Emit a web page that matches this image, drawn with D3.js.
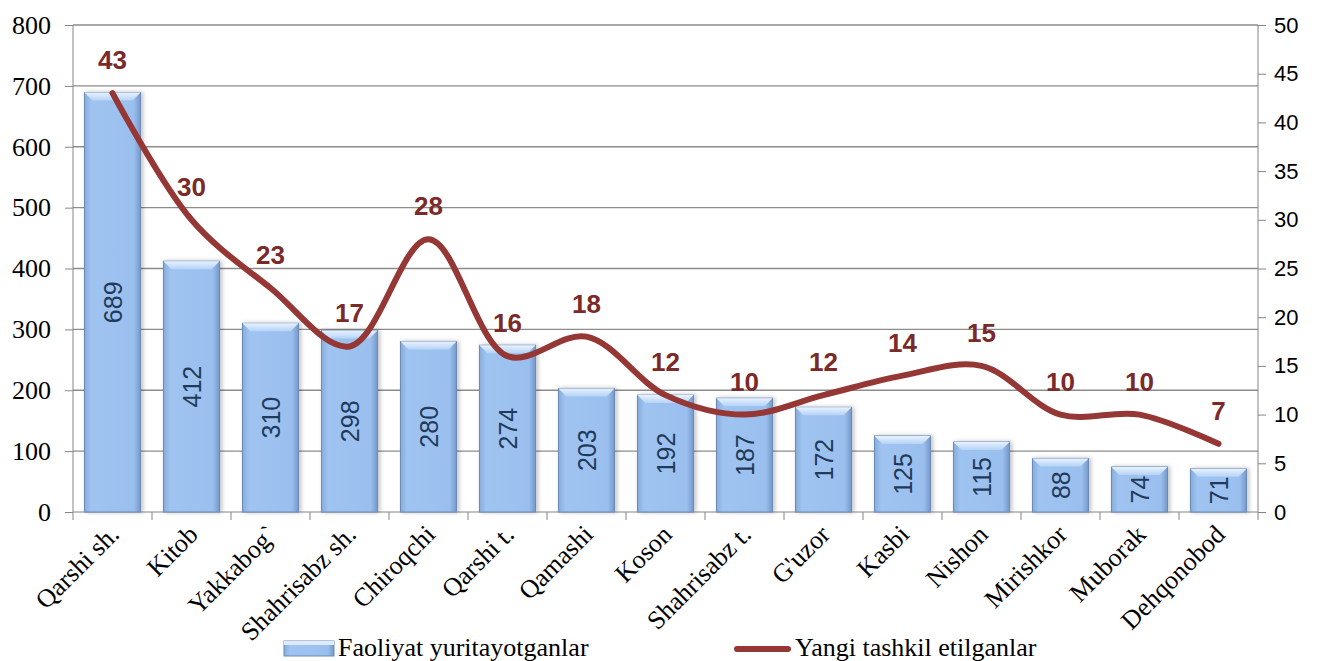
<!DOCTYPE html>
<meta charset="utf-8">
<title>Faoliyat yuritayotganlar</title>
<style>
  body { margin: 0; background: #fff; }
  .axis path, .axis line { stroke: #868686; }
  .grid line { stroke: #8c8c8c; stroke-width: 1.3px; }
</style>
<body>
<svg width="1317" height="661"></svg>
<script src="https://d3js.org/d3.v7.min.js"></script>
<script>
  // districts
  var districts = ["Qarshi sh.", "Kitob", "Yakkabog`", "Shahrisabz sh.", "Chiroqchi", "Qarshi t.",
    "Qamashi", "Koson", "Shahrisabz t.", "G'uzor", "Kasbi", "Nishon", "Mirishkor", "Muborak", "Dehqonobod"];
  // bars - left axis
  var active = [689, 412, 310, 298, 280, 274, 203, 192, 187, 172, 125, 115, 88, 74, 71];
  // line - right axis
  var newlyCreated = [43, 30, 23, 17, 28, 16, 18, 12, 10, 12, 14, 15, 10, 10, 7];
  var leftTicks = [0, 100, 200, 300, 400, 500, 600, 700, 800];
  var rightTicks = [0, 5, 10, 15, 20, 25, 30, 35, 40, 45, 50];
  var seriesNames = ["Faoliyat yuritayotganlar", "Yangi tashkil etilganlar"];

  var SERIF = "'Liberation Serif', 'Times New Roman', serif";
  var SANS = "'Liberation Sans', Arial, sans-serif";

  var svg = d3.select("svg");
  var margin = { left: 73, right: 59, top: 25, bottom: 149 };
  var width = 1317 - margin.left - margin.right,
    height = 661 - margin.top - margin.bottom;

  var defs = svg.append("defs");
  var grad = defs.append("linearGradient").attr("id", "barGrad")
    .attr("x1", "0").attr("x2", "1").attr("y1", "0").attr("y2", "0");
  grad.append("stop").attr("offset", "0%").attr("stop-color", "#86acdc");
  grad.append("stop").attr("offset", "12%").attr("stop-color", "#a0c4f1");
  grad.append("stop").attr("offset", "88%").attr("stop-color", "#9abfee");
  grad.append("stop").attr("offset", "100%").attr("stop-color", "#7499c8");
  var topGrad = defs.append("linearGradient").attr("id", "topGrad")
    .attr("x1", "0").attr("x2", "0").attr("y1", "0").attr("y2", "1");
  topGrad.append("stop").attr("offset", "0%").attr("stop-color", "#e8f2ff");
  topGrad.append("stop").attr("offset", "100%").attr("stop-color", "#b5d3f7");
  var shadow = defs.append("filter").attr("id", "shadow").attr("x", "-20%").attr("width", "140%");
  shadow.append("feDropShadow").attr("dx", 2).attr("dy", 0).attr("stdDeviation", 2)
    .attr("flood-color", "#000").attr("flood-opacity", 0.25);

  var g = svg.append("g").attr("transform", "translate(" + margin.left + "," + margin.top + ")");

  var x = d3.scaleBand().domain(districts).range([0, width]).paddingInner(0.29).paddingOuter(0.145);
  var xt = d3.scaleBand().domain(districts).range([0, width]);
  var y = d3.scaleLinear().domain([0, 800]).range([height, 0]);
  var y2 = d3.scaleLinear().domain([0, 50]).range([height, 0]);

  // gridlines
  g.append("g").attr("class", "grid")
    .selectAll("line").data(leftTicks.slice(1)).enter().append("line")
    .attr("x1", 0).attr("x2", width)
    .attr("y1", d => y(d)).attr("y2", d => y(d));

  // left axis
  var ya = g.append("g").attr("class", "axis")
    .call(d3.axisLeft(y).tickValues(leftTicks).tickSize(8).tickPadding(14));
  ya.select(".domain").attr("d", "M0," + height + "V0");
  ya.selectAll("text").style("font-family", SERIF).style("font-size", "26px").attr("fill", "#000");

  // right axis
  var yb = g.append("g").attr("class", "axis").attr("transform", "translate(" + width + ",0)")
    .call(d3.axisRight(y2).tickValues(rightTicks).tickSize(8).tickPadding(8));
  yb.select(".domain").attr("d", "M0," + height + "V0");
  yb.selectAll("text").style("font-family", SANS).style("font-size", "22px").attr("fill", "#000");

  // x axis with ticks at band boundaries
  var xa = g.append("g").attr("class", "axis").attr("transform", "translate(0," + height + ")");
  xa.append("line").attr("x1", 0).attr("x2", width).attr("y1", 0).attr("y2", 0).attr("stroke", "#868686");
  xa.selectAll(".tk").data(districts.concat([null])).enter().append("line")
    .attr("x1", (d, i) => i * xt.step()).attr("x2", (d, i) => i * xt.step())
    .attr("y1", 0).attr("y2", 8).attr("stroke", "#868686");
  xa.selectAll(".lbl").data(districts).enter().append("text")
    .attr("text-anchor", "end")
    .style("font-family", SERIF).style("font-size", "26px").attr("fill", "#000")
    .attr("transform", d => "translate(" + (xt(d) + xt.bandwidth() / 2 + 8) + ",24) rotate(-45)")
    .text(d => d);

  // bars
  var bars = g.selectAll(".bar").data(active).enter().append("g").attr("class", "bar");
  bars.append("rect")
    .attr("x", (d, i) => x(districts[i]))
    .attr("y", d => y(d))
    .attr("width", x.bandwidth())
    .attr("height", d => height - y(d))
    .attr("fill", "url(#barGrad)")
    .attr("filter", "url(#shadow)")
    .attr("stroke", "#6a89b3").attr("stroke-width", 1);
  // bevel on the top
  bars.append("path")
    .attr("d", (d, i) => {
      var x0 = x(districts[i]), x1 = x0 + x.bandwidth(), t = y(d), b = 8;
      return "M" + x0 + "," + t + "L" + x1 + "," + t + "L" + (x1 - b) + "," + (t + b) + "L" + (x0 + b) + "," + (t + b) + "Z";
    })
    .attr("fill", "url(#topGrad)");
  bars.append("text")
    .attr("text-anchor", "middle")
    .style("font-family", SANS).style("font-size", "25px").attr("fill", "#1f3a5a")
    .attr("transform", (d, i) => "translate(" + (x(districts[i]) + x.bandwidth() / 2 + 9) + "," + ((y(d) + height) / 2) + ") rotate(-90)")
    .text(d => d);

  // line
  var line = d3.line()
    .x((d, i) => xt(districts[i]) + xt.bandwidth() / 2)
    .y(d => y2(d))
    .curve(d3.curveCatmullRom.alpha(0.5));
  g.append("path").datum(newlyCreated)
    .attr("d", line)
    .attr("fill", "none")
    .attr("stroke", "#953735").attr("stroke-width", 6)
    .attr("stroke-linecap", "round").attr("stroke-linejoin", "round");

  g.selectAll(".linelabel").data(newlyCreated).enter().append("text")
    .attr("text-anchor", "middle")
    .style("font-family", SANS).style("font-size", "26px").style("font-weight", "bold").attr("fill", "#7b2a2a")
    .attr("x", (d, i) => xt(districts[i]) + xt.bandwidth() / 2)
    .attr("y", d => y2(d) - 24)
    .text(d => d);

  // legend
  var lg = svg.append("g");
  lg.append("rect").attr("x", 284).attr("y", 641).attr("width", 50).attr("height", 15)
    .attr("fill", "url(#barGrad)").attr("stroke", "#6a89b3");
  lg.append("rect").attr("x", 284).attr("y", 641).attr("width", 50).attr("height", 4).attr("fill", "#dcebfd");
  lg.append("text").attr("x", 338).attr("y", 656).text(seriesNames[0])
    .style("font-family", SERIF).style("font-size", "26px");
  lg.append("line").attr("x1", 737).attr("x2", 788).attr("y1", 649).attr("y2", 649)
    .attr("stroke", "#953735").attr("stroke-width", 6).attr("stroke-linecap", "round");
  lg.append("text").attr("x", 795).attr("y", 656).text(seriesNames[1])
    .style("font-family", SERIF).style("font-size", "26px");
</script>
</body>
